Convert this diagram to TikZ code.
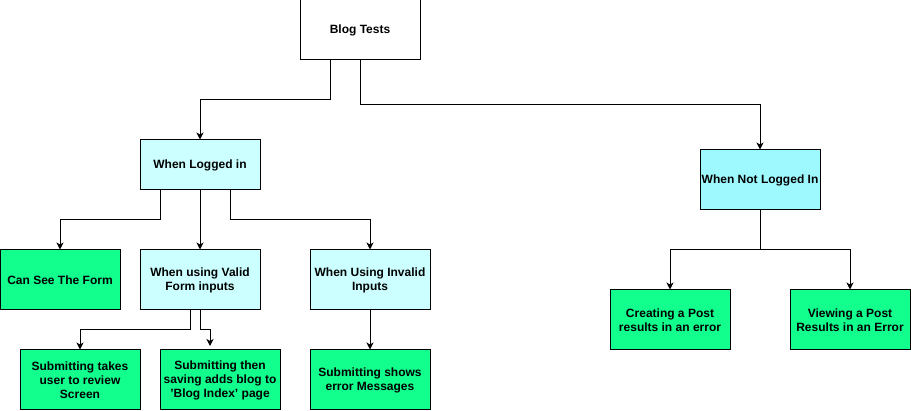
\documentclass[tikz,border=0pt]{standalone}
\usepackage{fontspec}
\setmainfont{Liberation Sans}
\usetikzlibrary{arrows.meta}
\definecolor{lcyan}{HTML}{CCFFFF}
\definecolor{dcyan}{HTML}{9EF9FF}
\definecolor{lgreen}{HTML}{12FF8E}
\tikzset{
  box/.style={draw=black, line width=1pt, minimum width=120pt, minimum height=60pt, align=center, font=\fontsize{12}{14}\selectfont\bfseries, inner sep=1pt},
  white/.style={box, fill=white},
  cyanbox/.style={box, fill=lcyan},
  cyanbox2/.style={box, fill=dcyan},
  greenbox/.style={box, fill=lgreen},
  conn/.style={draw=black, line width=1pt, -{Stealth[length=7pt,width=7pt,inset=2pt]}}
}
\begin{document}
\begin{tikzpicture}[x=1pt,y=-1pt]
\useasboundingbox (0,0) rectangle (911,411);
\node[white] (blog) at (360,30) {Blog Tests};
\node[cyanbox, minimum height=50pt] (wli) at (200,165) {When Logged in};
\node[cyanbox2] (wnli) at (760,180) {When Not Logged In};
\node[greenbox] (see) at (60,280) {Can See The Form};
\node[cyanbox] (valid) at (200,280) {When using Valid\\Form inputs};
\node[cyanbox] (invalid) at (370,280) {When Using Invalid\\Inputs};
\node[greenbox] (review) at (80,380) {Submitting takes\\user to review\\Screen};
\node[greenbox] (save) at (220,380) {Submitting then\\saving adds blog to\\'Blog Index' page};
\node[greenbox] (err) at (370,380) {Submitting shows\\error Messages};
\node[greenbox] (create) at (670,320) {Creating a Post\\results in an error};
\node[greenbox] (view) at (850,320) {Viewing a Post\\Results in an Error};
\coordinate (saveend) at (210,346);
\draw[conn] ([xshift=-30pt]blog.south) |- (200,100) -- (wli.north);
\draw[conn] (blog.south) |- (760,105) -- (wnli.north);
\draw[conn] ([xshift=-40pt]wli.south) |- (60,220) -- (see.north);
\draw[conn] (wli.south) -- (valid.north);
\draw[conn] ([xshift=30pt]wli.south) |- (370,220) -- (invalid.north);
\draw[conn] ([xshift=-10pt]valid.south) |- (80,330) -- (review.north);
\draw[conn] (valid.south) |- (210,330) -- (saveend);
\draw[conn] (invalid.south) -- (err.north);
\draw[conn] (wnli.south) |- (670,250) -- (create.north);
\draw[conn] (wnli.south) |- (850,250) -- (view.north);
\end{tikzpicture}
\end{document}
